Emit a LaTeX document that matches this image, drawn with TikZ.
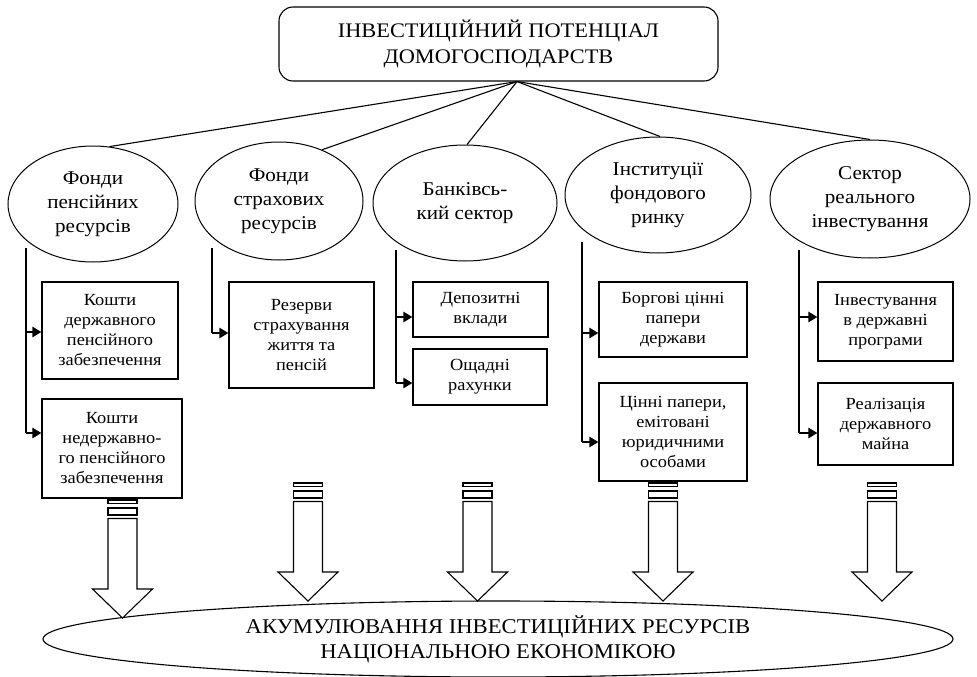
\documentclass[tikz,border=0pt]{standalone}
\usepackage{fontspec}
\setmainfont[FakeStretch=1.08]{Liberation Serif}
\usetikzlibrary{shapes.geometric,arrows.meta}
\begin{document}
\begin{tikzpicture}[x=1pt,y=-1pt,
 ell/.style={ellipse,draw,line width=1pt,inner sep=0pt,align=center,font=\fontsize{19.5}{24}\selectfont},
 rbox/.style={draw,line width=1.1pt,align=center,inner sep=0pt,font=\fontsize{17}{20}\selectfont},
 con/.style={line width=1.1pt},
 arr/.style={line width=2.8pt,-{Triangle[length=9pt,width=10pt]}},
 blk/.style={line width=1.1pt,fill=white}]
\useasboundingbox (0,0) rectangle (977,677);
% top box
\node[draw,rounded corners=14pt,line width=1.1pt,minimum width=439,minimum height=74,align=center,font=\fontsize{20.7}{26}\selectfont] (top) at (498.5,44) {ІНВЕСТИЦІЙНИЙ ПОТЕНЦІАЛ\\ДОМОГОСПОДАРСТВ};
\coordinate (apex) at ([xshift=18.5pt]top.south);
% ellipses
\node[ell,minimum width=170,minimum height=116] (e1) at (93,204) {Фонди\\пенсійних\\ресурсів};
\node[ell,minimum width=168,minimum height=118] (e2) at (279,201) {Фонди\\страхових\\ресурсів};
\node[ell,minimum width=184,minimum height=116] (e3) at (465,203) {Банківсь-\\кий сектор};
\node[ell,minimum width=186,minimum height=116] (e4) at (658,195) {Інституції\\фондового\\ринку};
\node[ell,minimum width=200,minimum height=118] (e5) at (870,199) {Сектор\\реального\\інвестування};
\draw[con] (apex) -- (e1.74);
\draw[con] (apex) -- (e2.50);
\draw[con] (apex) -- (e3.88);
\draw[con] (apex) -- (e4.88);
\draw[con] (apex) -- (e5.90);
% rectangles
\node[rbox,minimum width=136,minimum height=97] (r11) at (110,330.5) {Кошти\\державного\\пенсійного\\забезпечення};
\node[rbox,minimum width=140,minimum height=99] (r12) at (112,448.5) {Кошти\\недержавно-\\го пенсійного\\забезпечення};
\node[rbox,minimum width=145,minimum height=106] (r21) at (301.5,335) {Резерви\\страхування\\життя та\\пенсій};
\node[rbox,minimum width=135,minimum height=55] (r31) at (480.5,309.5) {Депозитні\\вклади};
\node[rbox,minimum width=134,minimum height=56] (r32) at (480,377) {Ощадні\\рахунки};
\node[rbox,minimum width=148,minimum height=75] (r41) at (673,319.5) {Боргові цінні\\папери\\держави};
\node[rbox,minimum width=148,minimum height=98] (r42) at (673,432) {Цінні папери,\\емітовані\\юридичними\\особами};
\node[rbox,minimum width=135,minimum height=79] (r51) at (885.5,321.5) {Інвестування\\в державні\\програми};
\node[rbox,minimum width=135,minimum height=82] (r52) at (885.5,424) {Реалізація\\державного\\майна};
% vertical lines and arrows
\coordinate (v1) at (26,248); \coordinate (a11) at (26,332); \coordinate (a12) at (26,433);
\coordinate (v2) at (212,248); \coordinate (a21) at (212,333);
\coordinate (v3) at (396,250); \coordinate (a31) at (396,317); \coordinate (a32) at (396,383);
\coordinate (v4) at (582,242); \coordinate (a41) at (582,333); \coordinate (a42) at (582,442);
\coordinate (v5) at (799,250); \coordinate (a51) at (799,317); \coordinate (a52) at (799,433);
\draw[con] (v1) -- (a12); \draw[con] (v2) -- (a21); \draw[con] (v3) -- (a32);
\draw[con] (v4) -- (a42); \draw[con] (v5) -- (a52);
\draw[arr] (a11) -- (a11 -| r11.west);
\draw[arr] (a12) -- (a12 -| r12.west);
\draw[arr] (a21) -- (a21 -| r21.west);
\draw[arr] (a31) -- (a31 -| r31.west);
\draw[arr] (a32) -- (a32 -| r32.west);
\draw[arr] (a41) -- (a41 -| r41.west);
\draw[arr] (a42) -- (a42 -| r42.west);
\draw[arr] (a51) -- (a51 -| r51.west);
\draw[arr] (a52) -- (a52 -| r52.west);
% bottom ellipse
\node[ellipse,draw,line width=1.1pt,minimum width=910,minimum height=76,inner sep=0pt,align=center,font=\fontsize{21}{25}\selectfont] (bot) at (498,639) {АКУМУЛЮВАННЯ ІНВЕСТИЦІЙНИХ РЕСУРСІВ\\НАЦІОНАЛЬНОЮ ЕКОНОМІКОЮ};
% block arrows
\foreach \cx/\yt in {122.5/500,308/483,477.5/483,663/483,882/483}{
  \draw[blk] (\cx-14.5,\yt) rectangle (\cx+14.5,\yt+3.5);
  \draw[blk] (\cx-14.5,\yt+8) rectangle (\cx+14.5,\yt+15);
  \draw[blk] (\cx-14.5,\yt+18.5) -- (\cx+14.5,\yt+18.5) -- (\cx+14.5,\yt+89) -- (\cx+30,\yt+89) -- (\cx,\yt+118) -- (\cx-30,\yt+89) -- (\cx-14.5,\yt+89) -- cycle;
}
\end{tikzpicture}
\end{document}
